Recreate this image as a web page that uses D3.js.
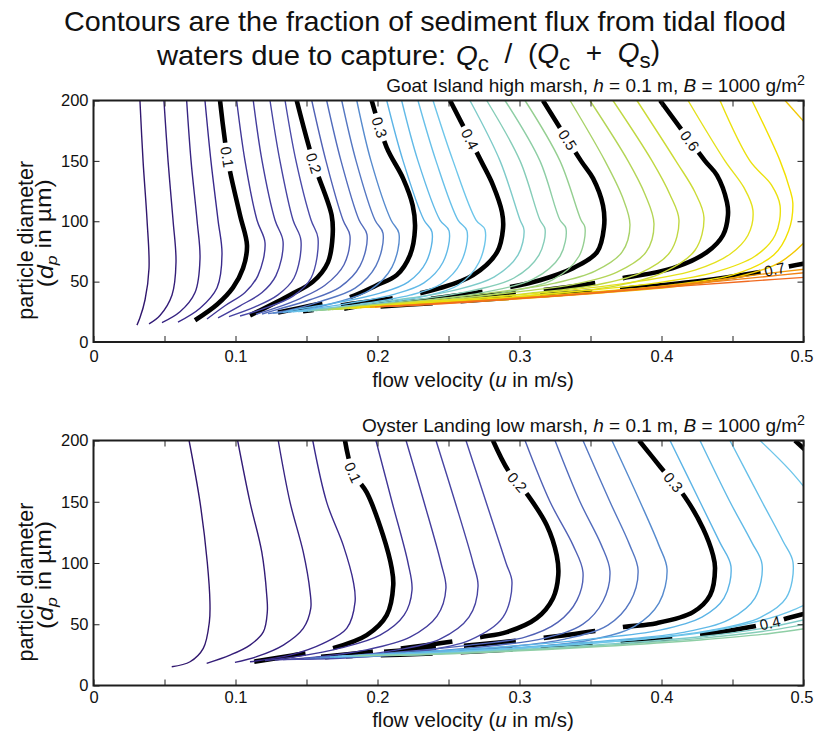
<!DOCTYPE html>
<html>
<head>
<meta charset="utf-8">
<script src="https://cdn.jsdelivr.net/npm/d3@7"></script>
<style>
  body { margin: 0; background: #fff; }
  text { font-family: "Liberation Sans", Arial, Helvetica, sans-serif; fill: #111; }
</style>
</head>
<body>
<svg id="chart" width="814" height="734"></svg>
<script>
// ---- axes ----
const uTicks = [0, 0.05, 0.1, 0.15, 0.2, 0.25, 0.3, 0.35, 0.4, 0.45, 0.5];
const uLabels = ["0", "", "0.1", "", "0.2", "", "0.3", "", "0.4", "", "0.5"];
const dTicks = [0, 50, 100, 150, 200];

// ---- colour map for contour levels ----
const colorLevels = [0.00, 0.08, 0.18, 0.26, 0.32, 0.38, 0.44, 0.50, 0.56, 0.62, 0.66, 0.70, 0.76];
const colorHex = ["#2e1064", "#3a2a8c", "#4a4aa8", "#5577c2", "#5cb4e6", "#6ec6ea", "#86cdb8",
                  "#9dd07e", "#c0d843", "#e4e11c", "#f2e000", "#f2b000", "#f06a20"];

// ---- Goat Island high marsh: contour levels and traced contour lines [u (m/s), dp (µm)] ----
const goatLevels = [0.02, 0.04, 0.06, 0.08, 0.10, 0.12, 0.14, 0.16, 0.18, 0.20,
                    0.22, 0.24, 0.26, 0.28, 0.30, 0.32, 0.34, 0.36, 0.38, 0.40,
                    0.42, 0.44, 0.46, 0.48, 0.50, 0.52, 0.54, 0.56, 0.58, 0.60,
                    0.62, 0.64, 0.66, 0.68, 0.68, 0.70, 0.72, 0.74, 0.76];
const goatLines = [
  [[0.0327,200],[0.0349,150],[0.0377,101],[0.0391,61],[0.0363,35],[0.0327,20],[0.0306,14]],
  [[0.0496,200],[0.0525,150],[0.056,101],[0.0581,66],[0.0553,39],[0.0468,22],[0.0391,15]],
  [[0.0656,200],[0.0687,150],[0.0729,101],[0.075,69],[0.0715,41],[0.0609,25],[0.0482,16]],
  [[0.0785,200],[0.0827,150],[0.0877,101],[0.0905,73],[0.087,45],[0.075,28],[0.0595,16.5]],
  [[0.0891,200],[0.0947,150],[0.1032,105],[0.1081,80],[0.1053,61],[0.0982,45],[0.087,31],[0.0715,18]],
  [[0.1008,200],[0.1067,150],[0.1151,101],[0.1208,82],[0.1158,55],[0.1067,41],[0.0926,30],[0.0799,19]],
  [[0.1125,200],[0.1187,150],[0.1278,101],[0.1335,83],[0.1285,55],[0.1187,41],[0.1032,30],[0.0877,20]],
  [[0.1243,200],[0.1313,150],[0.1405,101],[0.1461,84],[0.1412,53],[0.1299,39],[0.1137,29],[0.0954,21]],
  [[0.1349,200],[0.1426,150],[0.1532,101],[0.1581,86],[0.1532,53],[0.1405,38],[0.1208,28],[0.1032,21.5]],
  [[0.1431,200],[0.1546,150],[0.1677,105],[0.1684,88],[0.1651,66],[0.1546,50],[0.1384,39],[0.1102,22]],
  [[0.1537,200],[0.1637,150],[0.1757,101],[0.1806,88],[0.1764,64],[0.163,47],[0.1454,36],[0.1278,28],[0.1144,23]],
  [[0.1642,200],[0.1743,150],[0.187,101],[0.1926,89],[0.1877,63],[0.1736,45.5],[0.1525,35],[0.1313,27.5],[0.1187,23.2]],
  [[0.1748,200],[0.1849,150],[0.1982,101],[0.2039,90],[0.1989,63],[0.1842,44.6],[0.1595,33.5],[0.1384,26.5],[0.1229,23.5]],
  [[0.1854,200],[0.1954,150],[0.2095,101],[0.2151,90],[0.2102,62],[0.1947,43],[0.1701,32.5],[0.1454,26],[0.1264,24]],
  [[0.1959,200],[0.2065,161],[0.218,135.5],[0.2248,113],[0.2264,94],[0.2229,72],[0.2135,55.4],[0.1994,47],[0.1806,37.2],[0.1525,30],[0.1299,24.4]],
  [[0.2065,200],[0.218,150],[0.2327,101],[0.2384,91],[0.2342,66],[0.2215,49.6],[0.2018,40.5],[0.1736,33],[0.1454,27.5],[0.1335,24.5]],
  [[0.217,200],[0.2285,150],[0.244,101],[0.2504,92],[0.2461,66],[0.2327,49],[0.2123,39.7],[0.1806,32.2],[0.1489,26.6],[0.137,24.7]],
  [[0.2285,200],[0.2412,150],[0.2567,101],[0.263,92],[0.2588,66],[0.2447,48],[0.2229,38.8],[0.1877,31.4],[0.1525,26.6],[0.1405,25]],
  [[0.2391,200],[0.2532,150],[0.2694,101],[0.2757,93],[0.2715,66],[0.2567,47],[0.2335,38],[0.1947,31],[0.156,26.2],[0.144,25.2]],
  [[0.2511,200],[0.2729,150],[0.2813,130],[0.2877,107.4],[0.2884,94],[0.2842,74.4],[0.2673,55.4],[0.244,44.6],[0.2158,37.2],[0.1806,31.4],[0.1595,27.3],[0.1475,25.4]],
  [[0.2651,200],[0.2863,150],[0.3004,101],[0.3032,92.6],[0.2989,72],[0.282,53.7],[0.2546,43],[0.2229,36.4],[0.1877,31],[0.163,27.5],[0.151,25.6]],
  [[0.2769,200],[0.3004,150],[0.3144,101],[0.318,93.4],[0.3137,72],[0.2961,53],[0.2651,42.1],[0.2299,35.5],[0.1947,30.6],[0.1665,27.5],[0.1539,25.8]],
  [[0.2898,200],[0.3144,150],[0.3285,101],[0.3327,94.2],[0.3285,71],[0.3095,52],[0.2757,41.3],[0.237,34.7],[0.1982,30.2],[0.1701,27.5],[0.1567,26]],
  [[0.3039,200],[0.3285,150],[0.3433,101],[0.3461,95],[0.3419,71],[0.3229,51.2],[0.2863,40.5],[0.244,34.3],[0.2018,29.8],[0.1736,27.5],[0.1595,26.2]],
  [[0.3165,200],[0.3433,150],[0.3518,135.5],[0.3588,113],[0.3595,95],[0.3546,74.4],[0.3377,61.2],[0.3144,51.2],[0.2933,45.5],[0.2581,38.8],[0.2158,33.1],[0.1771,29],[0.1623,26.5]],
  [[0.3356,200],[0.3602,150],[0.3725,120],[0.3778,97],[0.3722,74.4],[0.3532,58.7],[0.325,48.8],[0.2863,41.7],[0.237,35.1],[0.1877,29.8],[0.1651,26.7]],
  [[0.3496,200],[0.3764,150],[0.3885,122],[0.3947,98],[0.3891,74.4],[0.3687,57.9],[0.339,47.9],[0.2968,41.3],[0.244,34.7],[0.1912,29.8],[0.1679,26.9]],
  [[0.3658,200],[0.3933,150],[0.406,122],[0.4123,101],[0.406,74.4],[0.3849,57],[0.3532,47.1],[0.3074,40.5],[0.2511,34.3],[0.1947,29.8],[0.1708,27.1]],
  [[0.3827,200],[0.4101,150],[0.4236,124],[0.4299,103],[0.4236,76],[0.401,57.4],[0.3673,46.3],[0.318,39.7],[0.2581,33.9],[0.1982,29.6],[0.1736,27.3]],
  [[0.399,200],[0.4306,150],[0.4391,138],[0.4461,115.7],[0.4468,105],[0.4433,88.4],[0.432,74.4],[0.408,61.2],[0.3729,52.9],[0.3285,44.6],[0.2722,38],[0.2158,32.6],[0.1877,29.8],[0.1764,27.5]],
  [[0.4187,200],[0.4447,150],[0.458,128],[0.4644,109],[0.4609,88.4],[0.4482,72.7],[0.4236,59.5],[0.3849,50.4],[0.3356,43],[0.2792,37.2],[0.2229,32.6],[0.1792,27.8]],
  [[0.4412,200],[0.4623,150],[0.4775,130],[0.4835,113],[0.48,88.4],[0.4658,71],[0.4377,57.9],[0.3954,48.8],[0.3426,42.1],[0.2863,36.4],[0.2299,32.2],[0.182,28.1]],
  [[0.4637,200],[0.4835,150],[0.4905,126],[0.4925,115],[0.4895,92],[0.479,72],[0.4518,56.2],[0.406,47.1],[0.3496,41.3],[0.2898,36],[0.2335,31.8],[0.1849,28.3]],
  [[0.487,200],[0.506,175]],
  [[0.506,89],[0.4835,66],[0.4553,54.5],[0.413,46.3],[0.3567,40.5],[0.2968,35.5],[0.237,31.4],[0.1877,28.5]],
  [[0.506,66],[0.4905,62.8],[0.4694,57.9],[0.4271,50.4],[0.3708,43.8],[0.3074,38],[0.244,32.6],[0.1912,28.7]],
  [[0.506,61],[0.4764,57],[0.4271,49.6],[0.3708,43],[0.3074,37.2],[0.244,32.2],[0.1947,28.9]],
  [[0.506,58],[0.4694,53.7],[0.42,47.9],[0.3567,41.3],[0.2863,35.1],[0.2299,31],[0.1982,29.1]],
  [[0.506,54],[0.4623,50.4],[0.413,46.3],[0.3496,40.1],[0.2792,34.3],[0.2299,30.6],[0.2018,29.3]]
];
// inline labels on the heavy contours: [level, u, dp]
const goatLabels = [[0.1, 0.0942, 153], [0.2, 0.1546, 148], [0.3, 0.2018, 177.7], [0.4, 0.2637, 167],
                    [0.5, 0.3335, 167], [0.6, 0.4201, 167], [0.7, 0.4799, 59]];
// where each heavy contour turns broken on its lower branch: [level, u, dp]
const goatHeavyEnds = [[0.3, 0.1806, 37.2], [0.4, 0.2299, 41], [0.5, 0.2933, 45.5],
                       [0.6, 0.3729, 52.9], [0.7, 0.3708, 43.8]];

// ---- Oyster Landing low marsh ----
const oysterLevels = [0.02, 0.04, 0.06, 0.08, 0.10, 0.12, 0.14, 0.16, 0.18, 0.20,
                      0.22, 0.24, 0.26, 0.28, 0.30, 0.32, 0.34, 0.36, 0.38, 0.38,
                      0.40, 0.40, 0.42, 0.44, 0.46];
const oysterLines = [
  [[0.0673,200],[0.075,149.7],[0.0801,100.8],[0.082,68.2],[0.0816,51.9],[0.0773,30.3],[0.068,19.4],[0.0551,15.3]],
  [[0.1015,200],[0.1102,149.7],[0.1185,109],[0.122,73.7],[0.1224,60.1],[0.1196,43.8],[0.1102,33],[0.0961,24.8],[0.0797,18.1]],
  [[0.1301,200],[0.1384,149.7],[0.1477,109],[0.1525,76.4],[0.153,62.9],[0.1477,46.6],[0.1337,33],[0.1149,23.5],[0.0996,18.9]],
  [[0.1544,200],[0.1642,149.7],[0.1759,114.4],[0.183,84.6],[0.1842,68.3],[0.1783,46.6],[0.1618,34.4],[0.1384,24.8],[0.1102,19.4]],
  [[0.1771,200],[0.1827,173.9],[0.1924,157.6],[0.2039,122.6],[0.21,95.7],[0.2111,81.9],[0.2065,57.4],[0.1924,41.1],[0.1687,30.5],[0.14,24.5],[0.1123,19.3]],
  [[0.1989,200],[0.2102,150],[0.2215,100],[0.2243,77.8],[0.2187,57.4],[0.2018,41.1],[0.1736,30.5],[0.1454,24],[0.1208,20.4]],
  [[0.2201,200],[0.2327,150],[0.2447,100],[0.2482,79.4],[0.2419,56.6],[0.2229,39.5],[0.1912,28.9],[0.156,23.2],[0.1278,20.8]],
  [[0.2412,200],[0.2546,150],[0.2673,100],[0.2708,81.1],[0.2644,55.8],[0.244,37.9],[0.2088,28.1],[0.1665,22.8],[0.1335,21.1]],
  [[0.2623,200],[0.2764,150],[0.2905,100],[0.2947,84.3],[0.2884,55.8],[0.2651,37.1],[0.2264,27.3],[0.1771,22.4],[0.1391,21.4]],
  [[0.2813,200],[0.2923,175],[0.306,155.2],[0.3192,130.8],[0.3262,106.3],[0.3273,90],[0.3236,71.3],[0.3121,55],[0.291,43.6],[0.2722,39.5],[0.2299,32.2],[0.1806,25.7],[0.144,21.8]],
  [[0.3039,200],[0.3215,150],[0.3375,115],[0.3447,92.5],[0.3405,69.7],[0.3271,51.7],[0.3039,39.5],[0.2651,33],[0.2158,27.3],[0.1482,22.1]],
  [[0.325,200],[0.3426,150],[0.3575,115],[0.3637,93.3],[0.3588,68.8],[0.3447,50.1],[0.318,38.7],[0.2792,32.2],[0.2229,26.5],[0.1525,22.4]],
  [[0.3447,200],[0.3637,150],[0.3775,115],[0.3835,94.1],[0.3778,68],[0.3623,49.3],[0.332,37.9],[0.2898,31.4],[0.2299,26.1],[0.156,22.6]],
  [[0.3651,200],[0.3849,150],[0.398,115],[0.4039,94.9],[0.3982,67.2],[0.3813,48.5],[0.3496,37.1],[0.3004,30.5],[0.237,25.7],[0.1595,22.8]],
  [[0.3842,200],[0.3995,178],[0.4165,153.9],[0.4292,128.3],[0.4363,106.3],[0.4377,95.7],[0.4342,73.7],[0.4222,59.9],[0.3966,50.9],[0.3729,47.7],[0.3215,39.5],[0.2581,32.2],[0.2018,27.3],[0.163,23.1]],
  [[0.406,200],[0.4271,150],[0.441,117],[0.4489,97.4],[0.444,71.3],[0.4285,55.8],[0.3989,45.2],[0.3496,37.9],[0.2863,31.4],[0.2158,26.5],[0.1665,23.3]],
  [[0.4271,200],[0.4482,150],[0.4635,117],[0.4708,99],[0.4658,71.3],[0.4482,54.2],[0.4165,43.6],[0.3637,36.7],[0.2933,30.5],[0.2229,26.1],[0.1694,23.5]],
  [[0.4482,200],[0.4708,150],[0.4855,118],[0.4926,100.6],[0.4877,71.3],[0.4694,55.5],[0.4342,45],[0.3778,37],[0.3004,30.5],[0.2299,26],[0.1722,23.7]],
  [[0.4694,200],[0.4905,175.6],[0.5081,151]],
  [[0.5081,69.7],[0.4905,60.5],[0.4764,55],[0.4271,43],[0.3567,35],[0.2722,28.5],[0.2158,25.3],[0.175,23.9]],
  [[0.494,200],[0.5032,190]],
  [[0.5081,60.7],[0.4905,55.5],[0.4764,51],[0.4271,41.3],[0.3567,34.2],[0.2722,28],[0.2158,25.2],[0.1778,24]],
  [[0.5081,55.8],[0.4764,47.7],[0.4271,39.8],[0.3567,33.4],[0.2722,27.6],[0.2158,25],[0.1806,24.2]],
  [[0.5081,51.7],[0.4764,45],[0.4271,38.5],[0.3567,32.6],[0.2722,27.2],[0.2158,24.8],[0.1835,24.4]],
  [[0.5081,47.7],[0.4764,42.5],[0.4271,37.2],[0.3567,31.8],[0.2722,26.8],[0.2158,24.7],[0.1863,24.6]]
];
const oysterLabels = [[0.1, 0.1827, 173.9], [0.2, 0.298, 165.8], [0.3, 0.406, 163.4], [0.4, 0.4764, 51]];
const oysterHeavyEnds = [[0.1, 0.1687, 30.5], [0.2, 0.2722, 39.5], [0.3, 0.3729, 47.7], [0.4, 0.4271, 41.3]];

// ---- drawing ----
const svg = d3.select("#chart");
svg.append("rect").attr("width", 814).attr("height", 734).attr("fill", "#fff");

const color = d3.scaleLinear().domain(colorLevels).range(colorHex)
  .interpolate(d3.interpolateRgb).clamp(true);
const same = (a, b) => Math.abs(a - b) < 1e-6;
const isMajor = v => same(v * 10, Math.round(v * 10));

const plotLeft = 93.5, plotWidth = 710;
const bundleGap = 28, bundleDash = 52;   // broken heavy line inside the dense bundle

// nearest position (path length) on a path to a screen point
function nearestOnPath(node, px, py) {
  const L = node.getTotalLength();
  let best = { s: 0, dd: Infinity };
  for (let s = 0; s <= L; s += 0.5) {
    const p = node.getPointAtLength(s);
    const dd = (p.x - px) ** 2 + (p.y - py) ** 2;
    if (dd < best.dd) best = { s, dd };
  }
  return { s: best.s, dd: best.dd, L };
}

function drawPanel(cfg) {
  const { id, top, height, levels, lines, labels, heavyEnds, site, tickPad, xlabelGap } = cfg;
  const x = d3.scaleLinear().domain([0, 0.5]).range([plotLeft, plotLeft + plotWidth]);
  const y = d3.scaleLinear().domain([0, 200]).range([top + height, top]);

  svg.append("clipPath").attr("id", "clip-" + id).append("rect")
    .attr("x", plotLeft).attr("y", top).attr("width", plotWidth).attr("height", height);

  const line = d3.line().x(d => x(d[0])).y(d => y(d[1])).curve(d3.curveCatmullRom.alpha(0.5));
  const plot = svg.append("g").attr("clip-path", `url(#clip-${id})`);

  // heavy black contours every 0.1 (underneath the thin ones)
  const majors = [];
  lines.forEach((pts, i) => {
    if (!isMajor(levels[i])) return;
    const p = plot.append("path").attr("d", line(pts)).attr("fill", "none")
      .attr("stroke", "#000").attr("stroke-width", 4.6);
    const node = p.node();
    majors.push({ level: levels[i], node, sel: p, L: node.getTotalLength(), gapAt: null, gap: 0, stop: null });
  });

  // thin coloured contours for the other levels
  lines.forEach((pts, i) => {
    if (isMajor(levels[i])) return;
    plot.append("path").attr("d", line(pts)).attr("fill", "none")
      .attr("stroke", color(levels[i])).attr("stroke-width", 1.4);
  });

  heavyEnds.forEach(([lev, eu, ed]) => {
    let best = null;
    majors.filter(m => same(m.level, lev)).forEach(m => {
      const r = nearestOnPath(m.node, x(eu), y(ed));
      if (!best || r.dd < best.r.dd) best = { r, m };
    });
    if (best) best.m.stop = best.r.s;
  });

  // inline labels, breaking the heavy line where they sit
  const labelG = svg.append("g");
  labels.forEach(([lev, lu, ld]) => {
    let best = null;
    majors.filter(m => same(m.level, lev)).forEach(m => {
      const r = nearestOnPath(m.node, x(lu), y(ld));
      if (!best || r.dd < best.r.dd) best = { r, m };
    });
    if (!best) return;
    const { m } = best, s = best.r.s, L = m.L;
    const p0 = m.node.getPointAtLength(Math.max(0, s - 3));
    const p1 = m.node.getPointAtLength(Math.min(L, s + 3));
    const pc = m.node.getPointAtLength(s);
    let ang = Math.atan2(p1.y - p0.y, p1.x - p0.x) * 180 / Math.PI;
    if (ang > 90) ang -= 180;
    if (ang <= -90) ang += 180;
    const t = labelG.append("text")
      .attr("transform", `translate(${pc.x},${pc.y}) rotate(${ang})`)
      .attr("text-anchor", "middle").attr("dy", "0.36em")
      .attr("font-size", 15).text(d3.format(".1f")(lev));
    m.gap = t.node().getComputedTextLength() + 8;
    m.gapAt = s;
  });

  majors.forEach(m => {
    const segs = [];
    let pos = 0;
    const stop = m.stop == null ? m.L : m.stop;
    if (m.gapAt != null) {
      const a = Math.max(0, m.gapAt - m.gap / 2);
      segs.push(a, m.gap);
      pos = a + m.gap;
    }
    segs.push(Math.max(0, stop - pos));
    pos = Math.max(pos, stop);
    while (pos < m.L) { segs.push(bundleGap, bundleDash); pos += bundleGap + bundleDash; }
    segs.push(m.L + 20);
    m.sel.attr("stroke-dasharray", segs.join(" "));
  });

  // axes with inward ticks
  const bottom = svg.append("g").attr("transform", `translate(0,${top + height})`)
    .call(d3.axisBottom(x).tickValues(uTicks).tickFormat((d, i) => uLabels[i]).tickSize(-6).tickPadding(tickPad));
  const topAx = svg.append("g").attr("transform", `translate(0,${top})`)
    .call(d3.axisTop(x).tickValues(uTicks).tickFormat("").tickSize(-6));
  const left = svg.append("g").attr("transform", `translate(${plotLeft},0)`)
    .call(d3.axisLeft(y).tickValues(dTicks).tickFormat(d3.format("d")).tickSize(-6).tickPadding(5));
  const right = svg.append("g").attr("transform", `translate(${plotLeft + plotWidth},0)`)
    .call(d3.axisRight(y).tickValues(dTicks).tickFormat("").tickSize(-6));
  [bottom, topAx, left, right].forEach(a => {
    a.select(".domain").remove();
    a.selectAll("line").attr("stroke", "#222").attr("stroke-width", 1);
    a.selectAll("text").attr("font-size", 16.5).attr("fill", "#111")
      .attr("font-family", "\"Liberation Sans\", Arial, sans-serif");
  });
  // keep the last velocity label inside the page
  bottom.selectAll(".tick text").filter((d, i) => i === uTicks.length - 1).attr("dx", "-2");

  svg.append("rect").attr("x", plotLeft).attr("y", top).attr("width", plotWidth).attr("height", height)
    .attr("fill", "none").attr("stroke", "#1e1e1e").attr("stroke-width", 2);

  // panel heading
  const st = svg.append("text").attr("x", 805).attr("y", top - 9).attr("text-anchor", "end").attr("font-size", 19);
  st.append("tspan").text(site + ", ");
  st.append("tspan").attr("font-style", "italic").text("h");
  st.append("tspan").text(" = 0.1 m, ");
  st.append("tspan").attr("font-style", "italic").text("B");
  st.append("tspan").text(" = 1000 g/m");
  st.append("tspan").attr("font-size", "0.75em").attr("dy", "-0.45em").text("2");

  // axis titles
  const xl = svg.append("text").attr("x", 473).attr("y", top + height + xlabelGap)
    .attr("text-anchor", "middle").attr("font-size", 20.5);
  xl.append("tspan").text("flow velocity (");
  xl.append("tspan").attr("font-style", "italic").text("u");
  xl.append("tspan").text(" in m/s)");

  const cy = top + height / 2;
  svg.append("text").attr("transform", `translate(32.5,${cy + 19}) rotate(-90)`)
    .attr("text-anchor", "middle").attr("font-size", 21.5).text("particle diameter");
  const yl2 = svg.append("text").attr("transform", `translate(52.5,${cy + 12}) rotate(-90)`)
    .attr("text-anchor", "middle").attr("font-size", 21.5)
    .attr("textLength", 108).attr("lengthAdjust", "spacingAndGlyphs");
  yl2.append("tspan").text("(");
  yl2.append("tspan").attr("font-style", "italic").text("d");
  yl2.append("tspan").attr("font-size", "0.72em").attr("font-style", "italic").attr("dy", "0.3em").text("p");
  yl2.append("tspan").attr("dy", "-0.3em").text(" in \u00b5m)");
}

// figure title
svg.append("text").attr("x", 425).attr("y", 31).attr("text-anchor", "middle").attr("font-size", 28)
  .attr("textLength", 722).attr("lengthAdjust", "spacingAndGlyphs")
  .text("Contours are the fraction of sediment flux from tidal flood");
svg.append("text").attr("x", 157).attr("y", 65).attr("font-size", 28)
  .attr("textLength", 289).attr("lengthAdjust", "spacingAndGlyphs")
  .text("waters due to capture:");
const nb = "\u00a0";
const t2 = svg.append("text").attr("x", 456).attr("y", 65).attr("font-size", 28);
t2.append("tspan").attr("font-style", "italic").text("Q");
t2.append("tspan").attr("font-size", "0.8em").attr("dy", "0.28em").text("c");
t2.append("tspan").attr("dy", "-0.28em").text(nb + nb + "/" + nb + nb + "(");
t2.append("tspan").attr("font-style", "italic").text("Q");
t2.append("tspan").attr("font-size", "0.8em").attr("dy", "0.28em").text("c");
t2.append("tspan").attr("dy", "-0.28em").text(nb + nb + "+" + nb + nb);
t2.append("tspan").attr("font-style", "italic").text("Q");
t2.append("tspan").attr("font-size", "0.8em").attr("dy", "0.28em").text("s");
t2.append("tspan").attr("dy", "-0.28em").text(")");

drawPanel({ id: "goat", top: 100.5, height: 241.5, levels: goatLevels, lines: goatLines,
            labels: goatLabels, heavyEnds: goatHeavyEnds, site: "Goat Island high marsh",
            tickPad: 8, xlabelGap: 45 });
drawPanel({ id: "oyster", top: 440.5, height: 245, levels: oysterLevels, lines: oysterLines,
            labels: oysterLabels, heavyEnds: oysterHeavyEnds, site: "Oyster Landing low marsh",
            tickPad: 5.5, xlabelGap: 41 });
</script>
</body>
</html>
